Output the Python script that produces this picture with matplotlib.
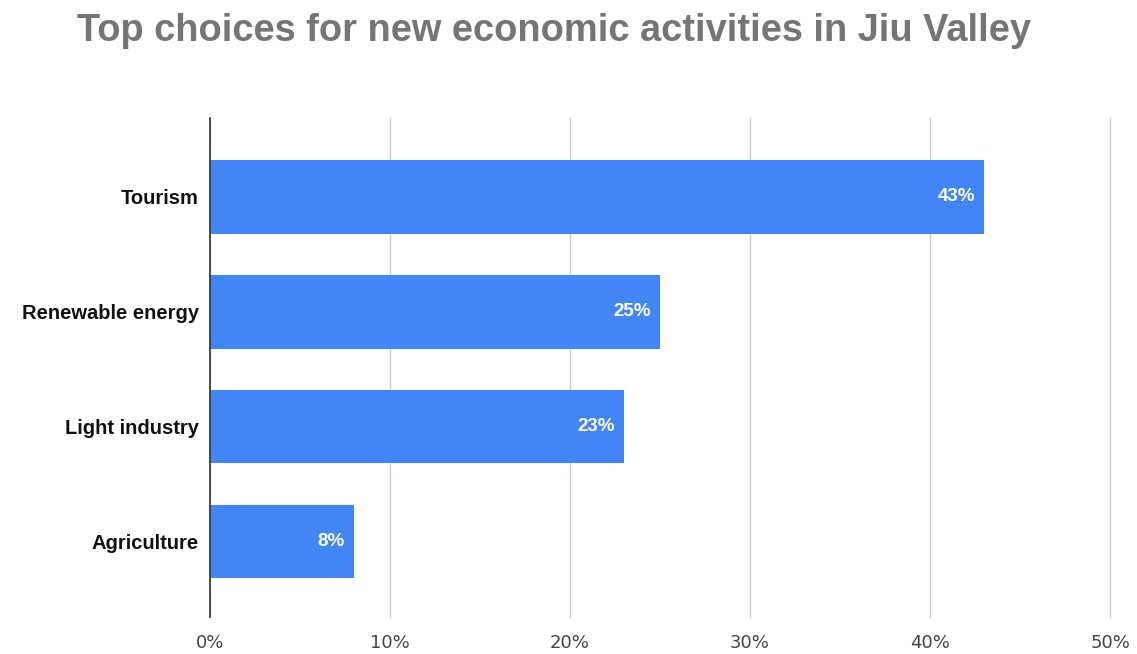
import matplotlib
matplotlib.use('Agg')
from matplotlib import pyplot as plt
from matplotlib.ticker import PercentFormatter

# share of respondents per preferred activity
categories = ['Tourism', 'Renewable energy', 'Light industry', 'Agriculture']
shares = [43, 25, 23, 8]
xticks = [0, 10, 20, 30, 40, 50]

plt.rcParams['font.family'] = ['Liberation Sans', 'DejaVu Sans']

fig = plt.figure(figsize=(11.37, 6.54), dpi=100)
ax = fig.add_axes([0.1847, 0.0566, 0.7916, 0.763])

pos = list(range(len(categories)))
bars = ax.barh(pos, shares, height=0.64, color='#4285F4', zorder=3)

for b, v in zip(bars, shares):
    ax.text(b.get_width() - 0.5, b.get_y() + b.get_height() / 2, f'{v}%',
            ha='right', va='center', color='white', fontsize=13.5,
            fontweight='bold', zorder=4)

ax.set_xlim(0, 50)
ax.set_ylim(3.655, -0.685)
ax.set_xticks(xticks)
ax.xaxis.set_major_formatter(PercentFormatter(decimals=0))
ax.set_yticks(pos)
ax.set_yticklabels(categories, fontsize=14.5, fontweight='bold', color='#111111')
ax.tick_params(axis='x', length=0, pad=12, labelsize=13, labelcolor='#444444')
ax.tick_params(axis='y', length=0, pad=8)
for lbl in ax.get_xticklabels():
    lbl.set_family('DejaVu Sans')

ax.grid(axis='x', color='#cccccc', linewidth=1, zorder=0)
for gl in ax.get_xgridlines():
    gl.set_clip_on(False)
for s in ['top', 'right', 'bottom']:
    ax.spines[s].set_visible(False)
ax.spines['left'].set_color('#333333')
ax.spines['left'].set_linewidth(1.2)
ax.spines['left'].set_zorder(5)

fig.text(0.068, 0.953, 'Top choices for new economic activities in Jiu Valley',
         ha='left', va='center', fontsize=27.4, fontweight='bold', color='#757575')

fig.savefig('out.png', dpi=100)
